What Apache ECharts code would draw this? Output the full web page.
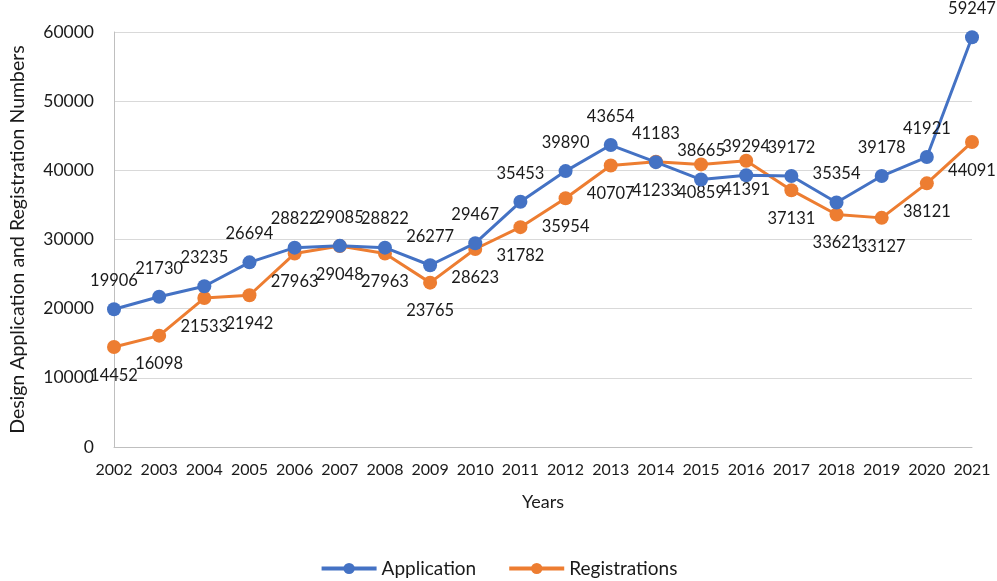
<!DOCTYPE html>
<html>
<head>
<meta charset="utf-8">
<title>Design Application and Registration</title>
<script src="https://cdn.jsdelivr.net/npm/echarts@6/dist/echarts.min.js"></script>
<style>
  html, body { margin: 0; padding: 0; background: #fff; }
  #chartWrap { width: 997px; height: 581px; }
</style>
</head>
<body>
<div id="chartWrap"></div>
<script>
// 数据
var years = ['2002','2003','2004','2005','2006','2007','2008','2009','2010','2011',
             '2012','2013','2014','2015','2016','2017','2018','2019','2020','2021'];
var application = [19906, 21730, 23235, 26694, 28822, 29085, 28822, 26277, 29467, 35453,
                   39890, 43654, 41183, 38665, 39294, 39172, 35354, 39178, 41921, 59247];
var registrations = [14452, 16098, 21533, 21942, 27963, 29048, 27963, 23765, 28623, 31782,
                     35954, 40707, 41233, 40859, 41391, 37131, 33621, 33127, 38121, 44091];

var fontName = 'Lato, "Open Sans", sans-serif';
var textColor = '#1a1a1a';

function lineSeries(name, data, color, labelPos){
	return {
		name: name,
		type: 'line',
		data: data,
		symbol: 'circle',
		symbolSize: 14,
		lineStyle: { color: color, width: 3 },
		itemStyle: { color: color },
		label: {
			show: true,
			position: labelPos,
			distance: 13,
			color: textColor,
			fontFamily: fontName,
			fontSize: 16.5
		},
		z: labelPos == 'top' ? 3 : 2
	};
}

var dom = document.getElementById('chartWrap');
var myChart = echarts.init(dom);
var option = {
	animation: false,
	textStyle: { fontFamily: fontName },
	grid: {
		left: 113,
		right: 25,
		top: 32,
		bottom: 134
	},
	legend: {
		bottom: -2,
		left: 'center',
		itemWidth: 55,
		itemHeight: 14,
		itemGap: 31,
		lineStyle: { width: 4 },
		textStyle: { color: textColor, fontFamily: fontName, fontSize: 19 },
		data: ['Application', 'Registrations']
	},
	xAxis: {
		type: 'category',
		boundaryGap: false,
		data: years,
		name: 'Years',
		nameLocation: 'middle',
		nameGap: 46,
		nameTextStyle: { color: textColor, fontFamily: fontName, fontSize: 18 },
		axisLine: { lineStyle: { color: '#bfbfbf', width: 1 } },
		axisTick: { show: false },
		axisLabel: { color: textColor, fontFamily: fontName, fontSize: 16, margin: 15, interval: 0 }
	},
	yAxis: {
		type: 'value',
		min: 0,
		max: 60000,
		interval: 10000,
		name: 'Design Application and Registration Numbers',
		nameLocation: 'middle',
		nameGap: 86,
		nameTextStyle: { color: textColor, fontFamily: fontName, fontSize: 19.5 },
		axisLine: { show: true, lineStyle: { color: '#bfbfbf', width: 1 } },
		axisTick: { show: false },
		axisLabel: {
			color: textColor, fontFamily: fontName, fontSize: 17.5, margin: 20,
			formatter: function(v){ return String(v); }
		},
		splitLine: { lineStyle: { color: '#d9d9d9', width: 1 } }
	},
	series: [
		lineSeries('Application', application, '#4472C4', 'top'),
		lineSeries('Registrations', registrations, '#ED7D31', 'bottom')
	]
};
if (option && typeof option === "object") {
	myChart.setOption(option, true);
}
</script>
</body>
</html>
